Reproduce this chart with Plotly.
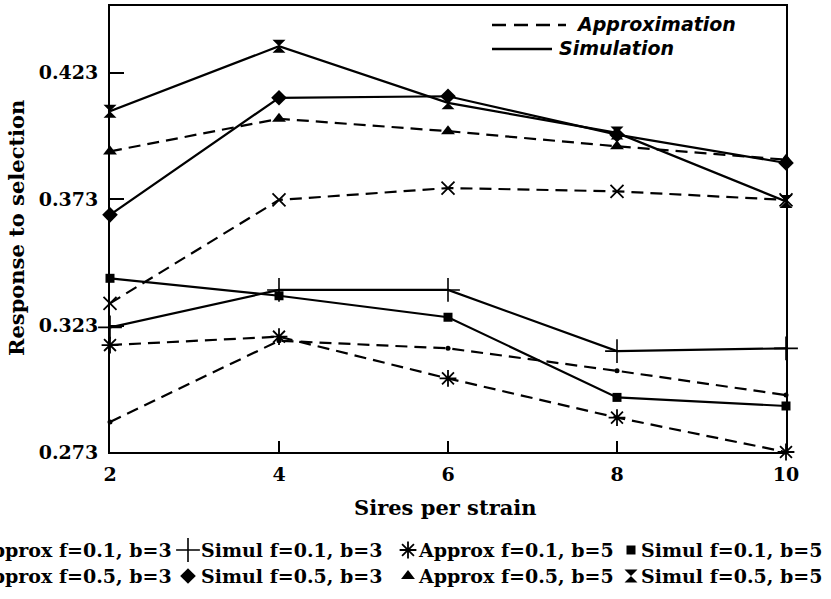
import plotly.graph_objects as go

# ---------------- data ----------------
sires = [2, 4, 6, 8, 10]

approx_f01_b3 = [0.2849, 0.3170, 0.3140, 0.3051, 0.2955]
simul_f01_b3 = [0.3223, 0.3371, 0.3371, 0.3129, 0.3140]
approx_f01_b5 = [0.3153, 0.3186, 0.3021, 0.2866, 0.2730]
simul_f01_b5 = [0.3417, 0.3348, 0.3263, 0.2946, 0.2912]
approx_f05_b3 = [0.3318, 0.3727, 0.3774, 0.3761, 0.3727]
simul_f05_b3 = [0.3668, 0.4131, 0.4137, 0.3985, 0.3873]
approx_f05_b5 = [0.3919, 0.4048, 0.3999, 0.3939, 0.3886]
simul_f05_b5 = [0.4078, 0.4335, 0.4111, 0.3992, 0.3721]

y_ticks = [0.273, 0.323, 0.373, 0.423]
y_tick_labels = ["0.273", "0.323", "0.373", "0.423"]
x_ticks = [2, 4, 6, 8, 10]

legend_names_row1 = ["Approx f=0.1, b=3", "Simul f=0.1, b=3", "Approx f=0.1, b=5", "Simul f=0.1, b=5"]
legend_names_row2 = ["Approx f=0.5, b=3", "Simul f=0.5, b=3", "Approx f=0.5, b=5", "Simul f=0.5, b=5"]

# ---------------- styles ----------------
W, H = 831, 599
DASH = "12px,7px"
SERIF = "DejaVu Serif"

series = [
    (approx_f01_b3, DASH, dict(symbol="circle", size=5)),
    (simul_f01_b3, "solid", dict(symbol="cross-thin-open", size=17, line=dict(width=1.6, color="black"))),
    (approx_f01_b5, DASH, dict(symbol="asterisk-open", size=14, line=dict(width=1.8, color="black"))),
    (simul_f01_b5, "solid", dict(symbol="square", size=9)),
    (approx_f05_b3, DASH, dict(symbol="x-thin-open", size=13, line=dict(width=1.8, color="black"))),
    (simul_f05_b3, "solid", dict(symbol="diamond", size=12)),
    (approx_f05_b5, DASH, dict(symbol="triangle-up", size=12)),
    (simul_f05_b5, "solid", dict(symbol="hourglass", size=13)),
]

fig = go.Figure()
for vals, dash, mk in series:
    fig.add_trace(go.Scatter(
        x=sires, y=vals, mode="lines+markers",
        line=dict(color="black", width=2.2, dash=dash),
        marker=dict(color="black", **mk),
        cliponaxis=False, showlegend=False, xaxis="x", yaxis="y",
    ))

# ---- bottom legend (overlay axis in pixel units) ----
marker_x = [-34, 188, 408, 631]
text_x = [174, 199, 416, 639]
row_y = [550, 576]
for r, (names, idxs) in enumerate([(legend_names_row1, [0, 1, 2, 3]), (legend_names_row2, [4, 5, 6, 7])]):
    for k, (nm, si) in enumerate(zip(names, idxs)):
        mk = dict(series[si][2])
        if si == 0:
            mk["size"] = 6
        fig.add_trace(go.Scatter(
            x=[marker_x[k]], y=[row_y[r]], mode="markers",
            marker=dict(color="black", **mk),
            cliponaxis=True, showlegend=False, xaxis="x2", yaxis="y2",
            hoverinfo="skip",
        ))
        fig.add_annotation(
            x=text_x[k], y=row_y[r], xref="x2", yref="y2", text="<b>" + nm + "</b>",
            showarrow=False, xanchor="right" if k == 0 else "left", yanchor="middle",
            font=dict(family=SERIF, size=19, color="black"),
        )

# ---- top legend line samples ----
fig.add_shape(type="line", xref="x2", yref="y2", x0=492, x1=566, y0=25, y1=25,
              line=dict(color="black", width=2.5, dash="14px,8px"))
fig.add_shape(type="line", xref="x2", yref="y2", x0=492, x1=552, y0=49, y1=49,
              line=dict(color="black", width=2.5))
fig.add_annotation(x=574, y=24, xref="x2", yref="y2", text="<b><i>Approximation</i></b>",
                   showarrow=False, xanchor="left", yanchor="middle",
                   font=dict(family="DejaVu Sans", size=19, color="black"))
fig.add_annotation(x=557, y=48, xref="x2", yref="y2", text="<b><i>Simulation</i></b>",
                   showarrow=False, xanchor="left", yanchor="middle",
                   font=dict(family="DejaVu Sans", size=19, color="black"))

# ---- axis titles ----
fig.add_annotation(x=445, y=507, xref="x2", yref="y2", text="<b>Sires per strain</b>",
                   showarrow=False, xanchor="center", yanchor="middle",
                   font=dict(family=SERIF, size=21, color="black"))
fig.add_annotation(x=16, y=228, xref="x2", yref="y2", text="<b>Response to selection</b>",
                   showarrow=False, textangle=-90, xanchor="center", yanchor="middle",
                   font=dict(family=SERIF, size=21, color="black"))

x0p, x1p, y0p, y1p = 110, 786, 6, 452
fig.update_layout(
    width=W, height=H,
    margin=dict(l=0, r=0, t=0, b=0, autoexpand=False),
    paper_bgcolor="white", plot_bgcolor="rgba(0,0,0,0)",
    showlegend=False,
    xaxis=dict(
        domain=[x0p / W, x1p / W], range=[2, 10], automargin=False,
        tickvals=x_ticks, ticktext=["<b>%d</b>" % v for v in x_ticks],
        ticks="inside", ticklen=11, tickwidth=2, tickcolor="black",
        showline=True, linewidth=2, linecolor="black", mirror=True,
        showgrid=False, zeroline=False,
        tickfont=dict(family=SERIF, size=19, color="black"),
        ticklabelstandoff=4,
    ),
    yaxis=dict(
        domain=[1 - y1p / H, 1 - y0p / H], range=[0.273, 0.4494], automargin=False,
        tickvals=y_ticks, ticktext=["<b>%s</b>" % t for t in y_tick_labels],
        ticks="inside", ticklen=14, tickwidth=2, tickcolor="black",
        showline=True, linewidth=2, linecolor="black", mirror=True,
        showgrid=False, zeroline=False,
        tickfont=dict(family=SERIF, size=19, color="black"),
        ticklabelstandoff=6,
    ),
    xaxis2=dict(domain=[0, 1], range=[0, W], visible=False, anchor="y2", automargin=False),
    yaxis2=dict(domain=[0, 1], range=[H, 0], visible=False, anchor="x2", automargin=False),
)

fig.write_html("out.html", config={"displayModeBar": False},
               post_script="document.body.style.margin='0';document.body.style.overflow='hidden';")
